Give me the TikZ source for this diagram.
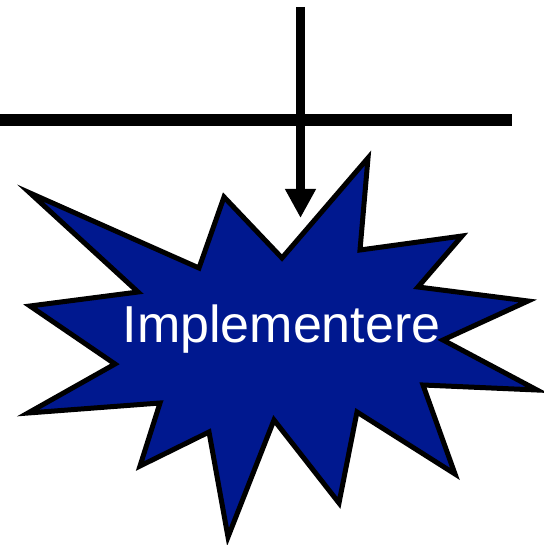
\documentclass[tikz,border=0pt]{standalone}
\usepackage{fontspec}
\setmainfont{Liberation Sans}
\usetikzlibrary{arrows.meta}
\definecolor{starblue}{RGB}{0,24,143}
\tikzset{
  barline/.style={line width=12pt, draw=black},
  arrowline/.style={line width=9pt, draw=black, -{Triangle[width=29pt,length=29pt]}},
  starshape/.style={fill=starblue, draw=black, line width=5pt, line join=miter, miter limit=20},
  startext/.style={text=white, font=\fontsize{52}{60}\selectfont, anchor=base, inner sep=0pt}
}
\begin{document}
\begin{tikzpicture}[x=1pt,y=-1pt]
\useasboundingbox (0,0) rectangle (543,545);
\draw[starshape] (30,193) -- (199,268) -- (224,197) -- (282,258) -- (368,158) -- (360,250)
  -- (462,236) -- (418,287) -- (528,301) -- (443,340) -- (537,390) -- (423,385)
  -- (455,474) -- (357,412) -- (339,503) -- (274,420) -- (228,537) -- (209,432)
  -- (140,466) -- (160,403) -- (28,413) -- (115,364) -- (30,306) -- (138,292) -- cycle;
\node[startext] (label) at (281.5,342) {Implementere};
\coordinate (hl) at (0,120.5);
\coordinate (hr) at (512,120.5);
\coordinate (vtop) at (300.5,7);
\coordinate (vtip) at (300.5,218);
\draw[barline] (hl) -- (hr);
\draw[arrowline] (vtop) -- (vtip);
\end{tikzpicture}
\end{document}
